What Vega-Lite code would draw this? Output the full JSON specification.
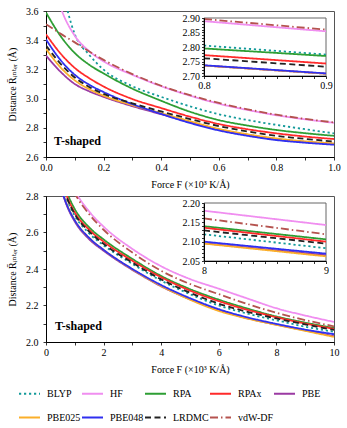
{
  "$schema": "https://vega.github.io/schema/vega-lite/v6.json",
  "padding": {"left": 7, "top": 5, "right": 6, "bottom": 2},
  "spacing": 0,
  "config": {
    "font": "Liberation Serif, DejaVu Serif, serif",
    "view": {"stroke": "#555", "strokeWidth": 1},
    "axis": {"labelFont": "Liberation Serif, DejaVu Serif, serif", "labelFontSize": 10, "titleFont": "Liberation Serif, DejaVu Serif, serif", "titleFontSize": 10, "titleFontWeight": "normal", "domainColor": "black", "tickColor": "black", "labelColor": "black", "titleColor": "black", "grid": false, "zindex": 1, "labelFlush": false, "labelOverlap": false, "labelPadding": 2, "tickSize": 3, "tickWidth": 0.8, "domainWidth": 1},
    "legend": {"orient": "none", "legendX": -28, "legendY": 371, "direction": "horizontal", "columns": 5, "symbolType": "stroke", "symbolSize": 441, "symbolStrokeWidth": 2, "labelFont": "Liberation Serif, DejaVu Serif, serif", "labelFontSize": 10, "labelColor": "black", "columnPadding": -10, "rowPadding": 7, "labelOffset": 6}
  },
  "datasets": {
    "top": [
      {"m":"BLYP","F":0.05,"R":3.8},{"m":"BLYP","F":0.075,"R":3.6},{"m":"BLYP","F":0.1,"R":3.44},{"m":"BLYP","F":0.15,"R":3.3},{"m":"BLYP","F":0.2,"R":3.198},{"m":"BLYP","F":0.3,"R":3.085},{"m":"BLYP","F":0.4,"R":3.012},{"m":"BLYP","F":0.5,"R":2.947},{"m":"BLYP","F":0.6,"R":2.893},{"m":"BLYP","F":0.7,"R":2.853},{"m":"BLYP","F":0.8,"R":2.82},{"m":"BLYP","F":0.9,"R":2.79},{"m":"BLYP","F":1.0,"R":2.762},
      {"m":"HF","F":0.03,"R":3.76},{"m":"HF","F":0.05,"R":3.63},{"m":"HF","F":0.1,"R":3.43},{"m":"HF","F":0.15,"R":3.325},{"m":"HF","F":0.2,"R":3.255},{"m":"HF","F":0.3,"R":3.163},{"m":"HF","F":0.4,"R":3.085},{"m":"HF","F":0.5,"R":3.02},{"m":"HF","F":0.6,"R":2.965},{"m":"HF","F":0.7,"R":2.922},{"m":"HF","F":0.8,"R":2.886},{"m":"HF","F":0.9,"R":2.858},{"m":"HF","F":1.0,"R":2.834},
      {"m":"RPA","F":0,"R":3.59},{"m":"RPA","F":0.05,"R":3.43},{"m":"RPA","F":0.1,"R":3.312},{"m":"RPA","F":0.15,"R":3.232},{"m":"RPA","F":0.2,"R":3.172},{"m":"RPA","F":0.3,"R":3.068},{"m":"RPA","F":0.4,"R":2.985},{"m":"RPA","F":0.5,"R":2.91},{"m":"RPA","F":0.6,"R":2.853},{"m":"RPA","F":0.7,"R":2.815},{"m":"RPA","F":0.8,"R":2.785},{"m":"RPA","F":0.9,"R":2.763},{"m":"RPA","F":1.0,"R":2.745},
      {"m":"RPAx","F":0,"R":3.44},{"m":"RPAx","F":0.05,"R":3.31},{"m":"RPAx","F":0.1,"R":3.21},{"m":"RPAx","F":0.15,"R":3.14},{"m":"RPAx","F":0.2,"R":3.083},{"m":"RPAx","F":0.3,"R":2.997},{"m":"RPAx","F":0.4,"R":2.935},{"m":"RPAx","F":0.5,"R":2.876},{"m":"RPAx","F":0.6,"R":2.826},{"m":"RPAx","F":0.7,"R":2.79},{"m":"RPAx","F":0.8,"R":2.762},{"m":"RPAx","F":0.9,"R":2.74},{"m":"RPAx","F":1.0,"R":2.723},
      {"m":"PBE","F":0,"R":3.295},{"m":"PBE","F":0.05,"R":3.185},{"m":"PBE","F":0.1,"R":3.1},{"m":"PBE","F":0.15,"R":3.05},{"m":"PBE","F":0.2,"R":3.012},{"m":"PBE","F":0.3,"R":2.948},{"m":"PBE","F":0.4,"R":2.893},{"m":"PBE","F":0.5,"R":2.838},{"m":"PBE","F":0.6,"R":2.788},{"m":"PBE","F":0.7,"R":2.752},{"m":"PBE","F":0.8,"R":2.723},{"m":"PBE","F":0.9,"R":2.704},{"m":"PBE","F":1.0,"R":2.69},
      {"m":"PBE025","F":0,"R":3.34},{"m":"PBE025","F":0.05,"R":3.215},{"m":"PBE025","F":0.1,"R":3.125},{"m":"PBE025","F":0.15,"R":3.065},{"m":"PBE025","F":0.2,"R":3.02},{"m":"PBE025","F":0.3,"R":2.955},{"m":"PBE025","F":0.4,"R":2.9},{"m":"PBE025","F":0.5,"R":2.845},{"m":"PBE025","F":0.6,"R":2.793},{"m":"PBE025","F":0.7,"R":2.756},{"m":"PBE025","F":0.8,"R":2.727},{"m":"PBE025","F":0.9,"R":2.707},{"m":"PBE025","F":1.0,"R":2.693},
      {"m":"PBE048","F":0,"R":3.405},{"m":"PBE048","F":0.05,"R":3.265},{"m":"PBE048","F":0.1,"R":3.163},{"m":"PBE048","F":0.15,"R":3.095},{"m":"PBE048","F":0.2,"R":3.045},{"m":"PBE048","F":0.3,"R":2.962},{"m":"PBE048","F":0.4,"R":2.895},{"m":"PBE048","F":0.5,"R":2.833},{"m":"PBE048","F":0.6,"R":2.782},{"m":"PBE048","F":0.7,"R":2.745},{"m":"PBE048","F":0.8,"R":2.716},{"m":"PBE048","F":0.9,"R":2.698},{"m":"PBE048","F":1.0,"R":2.684},
      {"m":"LRDMC","F":0,"R":3.363},{"m":"LRDMC","F":0.05,"R":3.24},{"m":"LRDMC","F":0.1,"R":3.145},{"m":"LRDMC","F":0.15,"R":3.08},{"m":"LRDMC","F":0.2,"R":3.032},{"m":"LRDMC","F":0.3,"R":2.968},{"m":"LRDMC","F":0.4,"R":2.912},{"m":"LRDMC","F":0.5,"R":2.86},{"m":"LRDMC","F":0.6,"R":2.812},{"m":"LRDMC","F":0.7,"R":2.775},{"m":"LRDMC","F":0.8,"R":2.745},{"m":"LRDMC","F":0.9,"R":2.724},{"m":"LRDMC","F":1.0,"R":2.706},
      {"m":"vdW-DF","F":0,"R":3.51},{"m":"vdW-DF","F":0.05,"R":3.445},{"m":"vdW-DF","F":0.1,"R":3.385},{"m":"vdW-DF","F":0.15,"R":3.322},{"m":"vdW-DF","F":0.2,"R":3.265},{"m":"vdW-DF","F":0.3,"R":3.168},{"m":"vdW-DF","F":0.4,"R":3.088},{"m":"vdW-DF","F":0.5,"R":3.024},{"m":"vdW-DF","F":0.6,"R":2.97},{"m":"vdW-DF","F":0.7,"R":2.927},{"m":"vdW-DF","F":0.8,"R":2.89},{"m":"vdW-DF","F":0.9,"R":2.861},{"m":"vdW-DF","F":1.0,"R":2.837}
    ],
    "topInset": [
      {"m":"BLYP","F":0.8,"R":2.805},{"m":"BLYP","F":0.9,"R":2.774},
      {"m":"HF","F":0.8,"R":2.889},{"m":"HF","F":0.9,"R":2.854},
      {"m":"RPA","F":0.8,"R":2.795},{"m":"RPA","F":0.9,"R":2.769},
      {"m":"RPAx","F":0.8,"R":2.772},{"m":"RPAx","F":0.9,"R":2.743},
      {"m":"PBE","F":0.8,"R":2.736},{"m":"PBE","F":0.9,"R":2.708},
      {"m":"PBE025","F":0.8,"R":2.736},{"m":"PBE025","F":0.9,"R":2.708},
      {"m":"PBE048","F":0.8,"R":2.737},{"m":"PBE048","F":0.9,"R":2.709},
      {"m":"LRDMC","F":0.8,"R":2.761},{"m":"LRDMC","F":0.9,"R":2.732},
      {"m":"vdW-DF","F":0.8,"R":2.8966},{"m":"vdW-DF","F":0.9,"R":2.86}
    ],
    "bot": [
      {"m":"BLYP","F":0.5,"R":2.885},{"m":"BLYP","F":0.75,"R":2.772},{"m":"BLYP","F":1,"R":2.692},{"m":"BLYP","F":1.5,"R":2.595},{"m":"BLYP","F":2,"R":2.53},{"m":"BLYP","F":3,"R":2.428},{"m":"BLYP","F":4,"R":2.336},{"m":"BLYP","F":5,"R":2.262},{"m":"BLYP","F":6,"R":2.2},{"m":"BLYP","F":7,"R":2.155},{"m":"BLYP","F":8,"R":2.119},{"m":"BLYP","F":9,"R":2.084},{"m":"BLYP","F":10,"R":2.056},
      {"m":"HF","F":0.75,"R":2.915},{"m":"HF","F":1,"R":2.83},{"m":"HF","F":1.5,"R":2.715},{"m":"HF","F":2,"R":2.632},{"m":"HF","F":3,"R":2.51},{"m":"HF","F":4,"R":2.415},{"m":"HF","F":5,"R":2.345},{"m":"HF","F":6,"R":2.292},{"m":"HF","F":7,"R":2.238},{"m":"HF","F":8,"R":2.185},{"m":"HF","F":9,"R":2.145},{"m":"HF","F":10,"R":2.11},
      {"m":"RPA","F":0.5,"R":2.92},{"m":"RPA","F":0.75,"R":2.81},{"m":"RPA","F":1,"R":2.728},{"m":"RPA","F":1.5,"R":2.628},{"m":"RPA","F":2,"R":2.562},{"m":"RPA","F":3,"R":2.455},{"m":"RPA","F":4,"R":2.362},{"m":"RPA","F":5,"R":2.29},{"m":"RPA","F":6,"R":2.232},{"m":"RPA","F":7,"R":2.183},{"m":"RPA","F":8,"R":2.14},{"m":"RPA","F":9,"R":2.106},{"m":"RPA","F":10,"R":2.077},
      {"m":"RPAx","F":0.5,"R":2.905},{"m":"RPAx","F":0.75,"R":2.79},{"m":"RPAx","F":1,"R":2.71},{"m":"RPAx","F":1.5,"R":2.615},{"m":"RPAx","F":2,"R":2.55},{"m":"RPAx","F":3,"R":2.445},{"m":"RPAx","F":4,"R":2.355},{"m":"RPAx","F":5,"R":2.282},{"m":"RPAx","F":6,"R":2.224},{"m":"RPAx","F":7,"R":2.176},{"m":"RPAx","F":8,"R":2.136},{"m":"RPAx","F":9,"R":2.101},{"m":"RPAx","F":10,"R":2.072},
      {"m":"PBE","F":0.5,"R":2.85},{"m":"PBE","F":0.75,"R":2.737},{"m":"PBE","F":1,"R":2.66},{"m":"PBE","F":1.5,"R":2.563},{"m":"PBE","F":2,"R":2.5},{"m":"PBE","F":3,"R":2.395},{"m":"PBE","F":4,"R":2.305},{"m":"PBE","F":5,"R":2.234},{"m":"PBE","F":6,"R":2.175},{"m":"PBE","F":7,"R":2.13},{"m":"PBE","F":8,"R":2.095},{"m":"PBE","F":9,"R":2.064},{"m":"PBE","F":10,"R":2.032},
      {"m":"PBE025","F":0.5,"R":2.86},{"m":"PBE025","F":0.75,"R":2.745},{"m":"PBE025","F":1,"R":2.667},{"m":"PBE025","F":1.5,"R":2.57},{"m":"PBE025","F":2,"R":2.505},{"m":"PBE025","F":3,"R":2.398},{"m":"PBE025","F":4,"R":2.307},{"m":"PBE025","F":5,"R":2.232},{"m":"PBE025","F":6,"R":2.17},{"m":"PBE025","F":7,"R":2.128},{"m":"PBE025","F":8,"R":2.094},{"m":"PBE025","F":9,"R":2.061},{"m":"PBE025","F":10,"R":2.028},
      {"m":"PBE048","F":0.5,"R":2.85},{"m":"PBE048","F":0.75,"R":2.742},{"m":"PBE048","F":1,"R":2.666},{"m":"PBE048","F":1.5,"R":2.57},{"m":"PBE048","F":2,"R":2.505},{"m":"PBE048","F":3,"R":2.4},{"m":"PBE048","F":4,"R":2.312},{"m":"PBE048","F":5,"R":2.24},{"m":"PBE048","F":6,"R":2.18},{"m":"PBE048","F":7,"R":2.135},{"m":"PBE048","F":8,"R":2.099},{"m":"PBE048","F":9,"R":2.068},{"m":"PBE048","F":10,"R":2.043},
      {"m":"LRDMC","F":0.5,"R":2.885},{"m":"LRDMC","F":0.75,"R":2.78},{"m":"LRDMC","F":1,"R":2.7},{"m":"LRDMC","F":1.5,"R":2.605},{"m":"LRDMC","F":2,"R":2.538},{"m":"LRDMC","F":3,"R":2.435},{"m":"LRDMC","F":4,"R":2.343},{"m":"LRDMC","F":5,"R":2.27},{"m":"LRDMC","F":6,"R":2.21},{"m":"LRDMC","F":7,"R":2.165},{"m":"LRDMC","F":8,"R":2.129},{"m":"LRDMC","F":9,"R":2.096},{"m":"LRDMC","F":10,"R":2.066},
      {"m":"vdW-DF","F":0.75,"R":2.9},{"m":"vdW-DF","F":1,"R":2.815},{"m":"vdW-DF","F":1.5,"R":2.7},{"m":"vdW-DF","F":2,"R":2.615},{"m":"vdW-DF","F":3,"R":2.49},{"m":"vdW-DF","F":4,"R":2.39},{"m":"vdW-DF","F":5,"R":2.318},{"m":"vdW-DF","F":6,"R":2.262},{"m":"vdW-DF","F":7,"R":2.208},{"m":"vdW-DF","F":8,"R":2.16},{"m":"vdW-DF","F":9,"R":2.12},{"m":"vdW-DF","F":10,"R":2.086}
    ],
    "botInset": [
      {"m":"BLYP","F":8,"R":2.119},{"m":"BLYP","F":9,"R":2.083},
      {"m":"HF","F":8,"R":2.18},{"m":"HF","F":9,"R":2.143},
      {"m":"RPA","F":8,"R":2.14},{"m":"RPA","F":9,"R":2.106},
      {"m":"RPAx","F":8,"R":2.136},{"m":"RPAx","F":9,"R":2.1},
      {"m":"PBE","F":8,"R":2.096},{"m":"PBE","F":9,"R":2.065},
      {"m":"PBE025","F":8,"R":2.095},{"m":"PBE025","F":9,"R":2.062},
      {"m":"PBE048","F":8,"R":2.1},{"m":"PBE048","F":9,"R":2.069},
      {"m":"LRDMC","F":8,"R":2.129},{"m":"LRDMC","F":9,"R":2.095},
      {"m":"vdW-DF","F":8,"R":2.16},{"m":"vdW-DF","F":9,"R":2.119}
    ]
  },
  "vconcat": [
    {
      "width": 288, "height": 146,
      "layer": [
        {
          "data": {"name": "top"},
          "mark": {"type": "line", "clip": true, "strokeWidth": 1.8, "interpolate": "monotone"},
          "encoding": {
            "x": {"field": "F", "type": "quantitative", "scale": {"domain": [0, 1], "nice": false},
              "axis": {"orient": "bottom", "values": [0,0.1,0.2,0.3,0.4,0.5,0.6,0.7,0.8,0.9,1.0], "labelExpr": "round(datum.value*10)%2==0 ? format(datum.value,'.1f') : ''", "title": "Force F (×10³ K/Å)", "titlePadding": 7}},
            "y": {"field": "R", "type": "quantitative", "scale": {"domain": [2.6, 3.6], "nice": false, "zero": false},
              "axis": {"orient": "left", "values": [2.6,2.7,2.8,2.9,3.0,3.1,3.2,3.3,3.4,3.5,3.6], "labelExpr": "round(datum.value*10)%2==0 ? format(datum.value,'.1f') : ''", "title": "Distance R\u0304ᵢₙₜₑᵣ (Å)", "titlePadding": 8, "labelPadding": 5}},
            "color": {"field": "m", "type": "nominal", "title": null,
              "scale": {"domain": ["BLYP","HF","RPA","RPAx","PBE","PBE025","PBE048","LRDMC","vdW-DF"], "range": ["#139a9a","#f08ef0","#2e9e34","#ff2a2a","#9b3aa3","#fbaf2a","#2f2ff0","#222222","#b5534f"]}},
            "strokeDash": {"field": "m", "type": "nominal", "title": null,
              "scale": {"domain": ["BLYP","HF","RPA","RPAx","PBE","PBE025","PBE048","LRDMC","vdW-DF"], "range": [[2.2,2.8],[1,0],[1,0],[1,0],[1,0],[1,0],[1,0],[6,3.5],[8,3,1.5,3]]}}
          }
        },
        {
          "data": {"values": [{"t": "T-shaped", "F": 0.028, "R": 2.71}]},
          "mark": {"type": "text", "align": "left", "baseline": "middle", "fontWeight": "bold", "fontSize": 12, "color": "black"},
          "encoding": {
            "x": {"field": "F", "type": "quantitative", "scale": {"domain": [0, 1], "nice": false}, "axis": null},
            "y": {"field": "R", "type": "quantitative", "scale": {"domain": [2.6, 3.6], "nice": false, "zero": false}, "axis": null},
            "text": {"field": "t"}
          }
        },
        {
          "data": {"values": [{"x1": 0.8, "x2": 0.9, "y1": 2.7, "y2": 2.9}]},
          "mark": {"type": "rect", "fill": "white", "stroke": "#666", "strokeWidth": 1},
          "encoding": {
            "x": {"field": "x1", "type": "quantitative", "scale": {"domain": [0.8, 0.9], "range": [158, 280], "nice": false}, "axis": null},
            "x2": {"field": "x2"},
            "y": {"field": "y1", "type": "quantitative", "scale": {"domain": [2.7, 2.9], "range": [65, 7], "nice": false, "zero": false}, "axis": null},
            "y2": {"field": "y2"}
          }
        },
        {
          "data": {"name": "topInset"},
          "mark": {"type": "line", "strokeWidth": 1.8},
          "encoding": {
            "x": {"field": "F", "type": "quantitative", "scale": {"domain": [0.8, 0.9], "range": [158, 280], "nice": false},
              "axis": {"orient": "bottom", "offset": -81, "zindex": 2, "values": [0.8,0.81,0.82,0.83,0.84,0.85,0.86,0.87,0.88,0.89,0.9], "labelExpr": "round(datum.value*100)%10==0 ? format(datum.value,'.1f') : ''", "tickSize": 2.5, "title": null}},
            "y": {"field": "R", "type": "quantitative", "scale": {"domain": [2.7, 2.9], "range": [65, 7], "nice": false, "zero": false},
              "axis": {"orient": "left", "offset": -158, "zindex": 2, "values": [2.7,2.71,2.72,2.73,2.74,2.75,2.76,2.77,2.78,2.79,2.8,2.81,2.82,2.83,2.84,2.85,2.86,2.87,2.88,2.89,2.9], "labelExpr": "round(datum.value*100)%5==0 ? format(datum.value,'.2f') : ''", "tickSize": 2.5, "title": null}},
            "color": {"field": "m", "type": "nominal", "title": null,
              "scale": {"domain": ["BLYP","HF","RPA","RPAx","PBE","PBE025","PBE048","LRDMC","vdW-DF"], "range": ["#139a9a","#f08ef0","#2e9e34","#ff2a2a","#9b3aa3","#fbaf2a","#2f2ff0","#222222","#b5534f"]}},
            "strokeDash": {"field": "m", "type": "nominal", "title": null,
              "scale": {"domain": ["BLYP","HF","RPA","RPAx","PBE","PBE025","PBE048","LRDMC","vdW-DF"], "range": [[2.2,2.8],[1,0],[1,0],[1,0],[1,0],[1,0],[1,0],[6,3.5],[8,3,1.5,3]]}}
          }
        }
      ],
      "resolve": {"scale": {"x": "independent", "y": "independent"}}
    },
    {
      "width": 288, "height": 146,
      "layer": [
        {
          "data": {"name": "bot"},
          "mark": {"type": "line", "clip": true, "strokeWidth": 1.8, "interpolate": "monotone"},
          "encoding": {
            "x": {"field": "F", "type": "quantitative", "scale": {"domain": [0, 10], "nice": false},
              "axis": {"orient": "bottom", "values": [0,1,2,3,4,5,6,7,8,9,10], "labelExpr": "datum.value%2==0 ? format(datum.value,'d') : ''", "title": "Force F (×10³ K/Å)", "titlePadding": 7}},
            "y": {"field": "R", "type": "quantitative", "scale": {"domain": [2.0, 2.8], "nice": false, "zero": false},
              "axis": {"orient": "left", "values": [2.0,2.1,2.2,2.3,2.4,2.5,2.6,2.7,2.8], "labelExpr": "round(datum.value*10)%2==0 ? format(datum.value,'.1f') : ''", "title": "Distance R\u0304ᵢₙₜₑᵣ (Å)", "titlePadding": 8, "labelPadding": 5}},
            "color": {"field": "m", "type": "nominal", "title": null,
              "scale": {"domain": ["BLYP","HF","RPA","RPAx","PBE","PBE025","PBE048","LRDMC","vdW-DF"], "range": ["#139a9a","#f08ef0","#2e9e34","#ff2a2a","#9b3aa3","#fbaf2a","#2f2ff0","#222222","#b5534f"]}},
            "strokeDash": {"field": "m", "type": "nominal", "title": null,
              "scale": {"domain": ["BLYP","HF","RPA","RPAx","PBE","PBE025","PBE048","LRDMC","vdW-DF"], "range": [[2.2,2.8],[1,0],[1,0],[1,0],[1,0],[1,0],[1,0],[6,3.5],[8,3,1.5,3]]}}
          }
        },
        {
          "data": {"values": [{"t": "T-shaped", "F": 0.31, "R": 2.088}]},
          "mark": {"type": "text", "align": "left", "baseline": "middle", "fontWeight": "bold", "fontSize": 12, "color": "black"},
          "encoding": {
            "x": {"field": "F", "type": "quantitative", "scale": {"domain": [0, 10], "nice": false}, "axis": null},
            "y": {"field": "R", "type": "quantitative", "scale": {"domain": [2.0, 2.8], "nice": false, "zero": false}, "axis": null},
            "text": {"field": "t"}
          }
        },
        {
          "data": {"values": [{"x1": 8, "x2": 9, "y1": 2.05, "y2": 2.2}]},
          "mark": {"type": "rect", "fill": "white", "stroke": "#666", "strokeWidth": 1},
          "encoding": {
            "x": {"field": "x1", "type": "quantitative", "scale": {"domain": [8, 9], "range": [158, 280], "nice": false}, "axis": null},
            "x2": {"field": "x2"},
            "y": {"field": "y1", "type": "quantitative", "scale": {"domain": [2.05, 2.2], "range": [65, 7], "nice": false, "zero": false}, "axis": null},
            "y2": {"field": "y2"}
          }
        },
        {
          "data": {"name": "botInset"},
          "mark": {"type": "line", "strokeWidth": 1.8},
          "encoding": {
            "x": {"field": "F", "type": "quantitative", "scale": {"domain": [8, 9], "range": [158, 280], "nice": false},
              "axis": {"orient": "bottom", "offset": -81, "zindex": 2, "values": [8,8.1,8.2,8.3,8.4,8.5,8.6,8.7,8.8,8.9,9], "labelExpr": "round(datum.value*10)%10==0 ? format(datum.value,'d') : ''", "tickSize": 2.5, "title": null}},
            "y": {"field": "R", "type": "quantitative", "scale": {"domain": [2.05, 2.2], "range": [65, 7], "nice": false, "zero": false},
              "axis": {"orient": "left", "offset": -158, "zindex": 2, "values": [2.05,2.06,2.07,2.08,2.09,2.1,2.11,2.12,2.13,2.14,2.15,2.16,2.17,2.18,2.19,2.2], "labelExpr": "round(datum.value*100)%5==0 ? format(datum.value,'.2f') : ''", "tickSize": 2.5, "title": null}},
            "color": {"field": "m", "type": "nominal", "title": null,
              "scale": {"domain": ["BLYP","HF","RPA","RPAx","PBE","PBE025","PBE048","LRDMC","vdW-DF"], "range": ["#139a9a","#f08ef0","#2e9e34","#ff2a2a","#9b3aa3","#fbaf2a","#2f2ff0","#222222","#b5534f"]}},
            "strokeDash": {"field": "m", "type": "nominal", "title": null,
              "scale": {"domain": ["BLYP","HF","RPA","RPAx","PBE","PBE025","PBE048","LRDMC","vdW-DF"], "range": [[2.2,2.8],[1,0],[1,0],[1,0],[1,0],[1,0],[1,0],[6,3.5],[8,3,1.5,3]]}}
          }
        }
      ],
      "resolve": {"scale": {"x": "independent", "y": "independent"}}
    }
  ]
}
